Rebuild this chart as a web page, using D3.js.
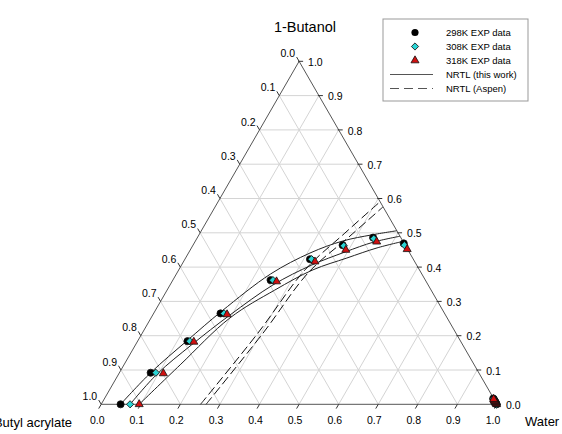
<!DOCTYPE html>
<html>
<head>
<meta charset="utf-8">
<script src="https://cdn.jsdelivr.net/npm/d3@7"></script>
<style>
  body { margin: 0; background: #fff; }
  svg { font-family: "Liberation Sans", Arial, sans-serif; }
</style>
</head>
<body>
<svg width="562" height="434"></svg>
<script>
// compositions are [water, butanol] mole fractions, butyl acrylate = 1 - both
const ticks = [0, 0.1, 0.2, 0.3, 0.4, 0.5, 0.6, 0.7, 0.8, 0.9, 1.0]
const tickLabels = ['0.0', '0.1', '0.2', '0.3', '0.4', '0.5', '0.6', '0.7', '0.8', '0.9', '1.0']
const vertexNames = ['1-Butanol', 'Butyl acrylate', 'Water']

const org298 = [[0.049, 0], [0.079, 0.092], [0.126, 0.184], [0.169, 0.265], [0.247, 0.362], [0.316, 0.423], [0.378, 0.464], [0.444, 0.486], [0.530, 0.469]]
const org308 = [[0.073, 0], [0.092, 0.092], [0.132, 0.184], [0.178, 0.265], [0.253, 0.362], [0.320, 0.423], [0.382, 0.462], [0.447, 0.483], [0.534, 0.464]]
const org318 = [[0.096, 0], [0.112, 0.090], [0.143, 0.182], [0.187, 0.262], [0.264, 0.358], [0.332, 0.416], [0.393, 0.450], [0.459, 0.474], [0.547, 0.452]]

const aq298 = [[0.999, 0], [0.996, 0.003], [0.994, 0.005], [0.992, 0.007], [0.990, 0.009], [0.988, 0.011], [0.986, 0.013], [0.984, 0.015], [0.982, 0.017]]
const aq308 = [[0.999, 0], [0.996, 0.003], [0.994, 0.005], [0.992, 0.007], [0.990, 0.009], [0.988, 0.011], [0.987, 0.012], [0.985, 0.014], [0.983, 0.016]]
const aq318 = [[0.999, 0], [0.997, 0.002], [0.995, 0.004], [0.993, 0.006], [0.991, 0.008], [0.989, 0.010], [0.988, 0.011], [0.986, 0.013], [0.984, 0.015]]

// NRTL (this work) binodal curves
const nrtl298 = [[0.049, 0], [0.079, 0.092], [0.1245, 0.186], [0.169, 0.272], [0.238, 0.380], [0.307, 0.441], [0.372, 0.476], [0.437, 0.494], [0.494, 0.506]]
const nrtl308 = [[0.073, 0], [0.097, 0.088], [0.142, 0.174], [0.195, 0.260], [0.260, 0.348], [0.329, 0.406], [0.394, 0.444], [0.452, 0.473], [0.510, 0.490]]
const nrtl318 = [[0.096, 0], [0.142, 0.115], [0.1995, 0.252], [0.272, 0.333], [0.339, 0.392], [0.4075, 0.4265], [0.469, 0.456], [0.525, 0.475]]

// NRTL (Aspen) curves
const aspenA = [[0.251, 0], [0.292, 0.207], [0.319, 0.392], [0.366, 0.499], [0.409, 0.590]]
const aspenB = [[0.265, 0], [0.305, 0.207], [0.332, 0.386], [0.382, 0.488], [0.424, 0.575]]

const svg = d3.select('svg')
const sq3 = Math.sqrt(3) / 2

const xs = d3.scaleLinear().domain([0, 1]).range([101.2, 497])
const ys = d3.scaleLinear().domain([0, sq3]).range([404.3, 61.3])

function px(d){ return xs(d[0] + d[1] / 2) }
function py(d){ return ys(d[1] * sq3) }

// grid
const grid = svg.append('g').attr('stroke', '#d4d4d4').attr('stroke-width', 1)
ticks.slice(1, -1).forEach(function(v){
  let segs = [
    [[0, v], [1 - v, v]],
    [[v, 0], [v, 1 - v]],
    [[v, 0], [0, v]]
  ]
  segs.forEach(function(s){
    grid.append('line')
      .attr('x1', px(s[0])).attr('y1', py(s[0]))
      .attr('x2', px(s[1])).attr('y2', py(s[1]))
  })
})

// frame
const corners = [[0, 1], [0, 0], [1, 0]]
svg.append('path')
  .attr('d', 'M' + corners.map(c => px(c) + ',' + py(c)).join('L') + 'Z')
  .attr('fill', 'none')
  .attr('stroke', '#555')
  .attr('stroke-width', 1)

// ticks and labels
const axis = svg.append('g').attr('stroke', '#333').attr('font-size', '10.5px')
ticks.forEach(function(v, i){
  // butyl acrylate on left edge
  let l = [0, 1 - v]
  axis.append('line')
    .attr('x1', px(l)).attr('y1', py(l))
    .attr('x2', px(l) - 2.5).attr('y2', py(l) - 4.3)
  axis.append('text')
    .attr('x', px(l) - 4).attr('y', py(l) - 8).attr('dy', '0.35em')
    .attr('text-anchor', 'end').attr('stroke', 'none').attr('fill', '#000')
    .text(tickLabels[i])
  // butanol on right edge
  let r = [1 - v, v]
  axis.append('line')
    .attr('x1', px(r) - 1).attr('y1', py(r))
    .attr('x2', px(r) + 4).attr('y2', py(r))
  axis.append('text')
    .attr('x', px(r) + 9).attr('y', py(r) + 1).attr('dy', '0.35em')
    .attr('stroke', 'none').attr('fill', '#000')
    .text(tickLabels[i])
  // water on bottom edge
  let b = [v, 0]
  axis.append('line')
    .attr('x1', px(b)).attr('y1', py(b))
    .attr('x2', px(b) - 2.5).attr('y2', py(b) + 4.3)
  axis.append('text')
    .attr('x', px(b) - 4).attr('y', py(b) + 16).attr('dy', '0.35em')
    .attr('text-anchor', 'middle').attr('stroke', 'none').attr('fill', '#000')
    .text(tickLabels[i])
})

// vertex names
svg.append('text').attr('x', 305).attr('y', 27).attr('dy', '0.35em')
  .attr('text-anchor', 'middle').attr('font-size', '14.5px').text(vertexNames[0])
svg.append('text').attr('x', 72).attr('y', 422).attr('dy', '0.35em')
  .attr('text-anchor', 'end').attr('font-size', '13px').text(vertexNames[1])
svg.append('text').attr('x', 525).attr('y', 421).attr('dy', '0.35em')
  .attr('font-size', '13px').text(vertexNames[2])

// curves
const line = d3.line().x(px).y(py).curve(d3.curveCatmullRom)
const curves = svg.append('g').attr('fill', 'none')
;[nrtl298, nrtl308, nrtl318].forEach(function(c){
  curves.append('path').attr('d', line(c)).attr('stroke', '#222').attr('stroke-width', 1)
})
;[aspenA, aspenB].forEach(function(c){
  curves.append('path').attr('d', line(c)).attr('stroke', '#111')
    .attr('stroke-width', 1).attr('stroke-dasharray', '9,4')
})

// markers
const circleSym = d3.symbol().type(d3.symbolCircle).size(40)
const diamondSym = d3.symbol().type(d3.symbolSquare).size(26)
const triSym = d3.symbol().type(d3.symbolTriangle).size(28)

function drawSet(data, sym, fill, rot){
  svg.append('g').selectAll('path').data(data).enter().append('path')
    .attr('d', sym)
    .attr('transform', d => 'translate(' + px(d) + ',' + py(d) + ')' + (rot ? ' rotate(45)' : ''))
    .attr('fill', fill)
    .attr('stroke', '#111')
    .attr('stroke-width', 0.8)
}
drawSet(org298.concat(aq298), circleSym, '#000', false)
drawSet(org308.concat(aq308), diamondSym, '#2ad4d4', true)
drawSet(org318.concat(aq318), triSym, '#d01010', false)

// legend
const leg = svg.append('g').attr('font-size', '9.5px')
leg.append('rect').attr('x', 383).attr('y', 19).attr('width', 145).attr('height', 82)
  .attr('fill', '#fff').attr('stroke', '#999').attr('stroke-width', 1)
const legNames = ['298K EXP data', '308K EXP data', '318K EXP data', 'NRTL (this work)', 'NRTL (Aspen)']
legNames.forEach(function(n, i){
  let yy = 32.5 + i * 14
  if(i === 0){
    leg.append('path').attr('d', circleSym).attr('transform', 'translate(415,' + yy + ')').attr('fill', '#000')
  }
  if(i === 1){
    leg.append('path').attr('d', diamondSym).attr('transform', 'translate(415,' + yy + ') rotate(45)')
      .attr('fill', '#2ad4d4').attr('stroke', '#111').attr('stroke-width', 0.8)
  }
  if(i === 2){
    leg.append('path').attr('d', triSym).attr('transform', 'translate(415,' + yy + ')')
      .attr('fill', '#d01010').attr('stroke', '#111').attr('stroke-width', 0.8)
  }
  if(i >= 3){
    leg.append('line').attr('x1', 390).attr('x2', 433).attr('y1', yy).attr('y2', yy)
      .attr('stroke', '#555').attr('stroke-width', 1)
      .attr('stroke-dasharray', i === 4 ? '9,5' : null)
  }
  leg.append('text').attr('x', 446).attr('y', yy).attr('dy', '0.35em').text(n)
})
</script>
</body>
</html>
